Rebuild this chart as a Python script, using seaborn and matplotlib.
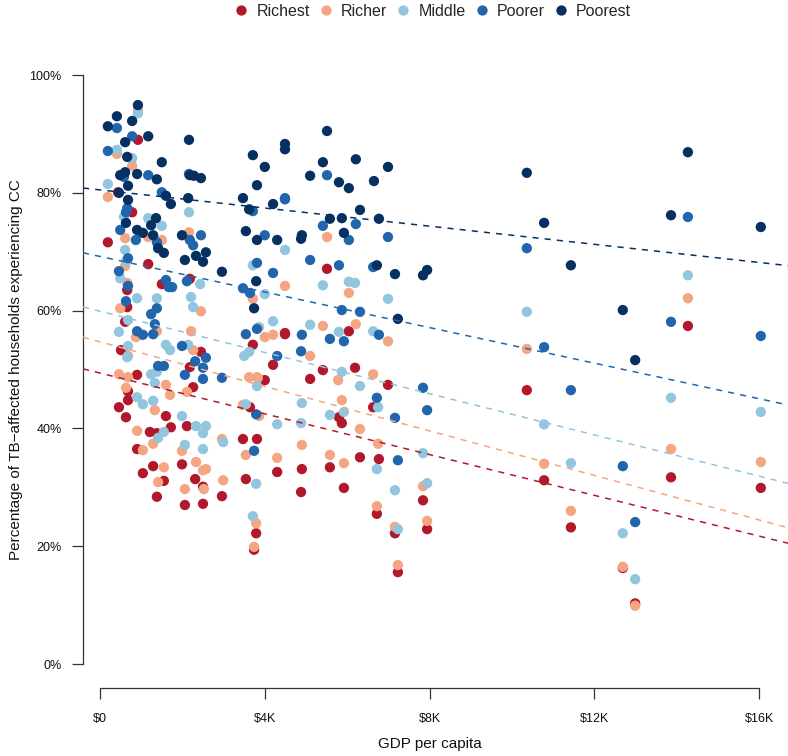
import pandas as pd
import matplotlib.pyplot as plt
import seaborn as sns

# quintile groups and colours (RdBu ends)
groups = ['Richest', 'Richer', 'Middle', 'Poorer', 'Poorest']
colors = ['#b2182b', '#f4a582', '#92c5de', '#2166ac', '#053061']

# GDP per capita in $K and % of households with catastrophic costs
richest_gdp = [0.19, 0.44, 0.92, 0.78, 1.17, 0.66, 0.66, 0.61, 0.51, 0.90, 0.68, 0.68, 0.46, 0.63, 1.50,
               2.18, 2.45, 2.18, 2.26, 1.60, 1.72, 2.11, 1.21, 1.38, 0.90, 1.29, 1.04, 1.55, 1.38, 1.99,
               2.31, 2.50, 2.96, 2.06, 2.50, 3.47, 3.81, 3.54, 3.64, 3.71, 3.79, 3.74, 4.00, 4.20, 4.30,
               4.49, 4.49, 4.88, 4.90, 5.10, 5.41, 5.51, 5.58, 5.80, 5.87, 5.92, 6.04, 6.19, 6.31, 6.63,
               6.77, 6.72, 6.99, 7.16, 7.23, 7.84, 7.94, 10.36, 10.78, 11.43, 12.69, 12.99, 13.86, 14.27, 16.04]
richest_pct = [71.6, 80.1, 89.0, 76.7, 67.9, 63.5, 60.6, 58.1, 53.3, 49.1, 46.3, 44.8, 43.6, 41.9, 64.5,
               65.4, 53.0, 50.4, 47.0, 42.1, 40.2, 40.4, 39.4, 39.2, 36.5, 33.6, 32.4, 31.1, 28.4, 33.9,
               31.4, 30.1, 28.5, 27.0, 27.2, 38.2, 38.2, 31.4, 43.6, 54.2, 22.2, 19.4, 48.2, 50.8, 32.6,
               56.2, 56.0, 29.2, 33.1, 48.4, 49.9, 67.1, 33.4, 41.9, 40.9, 29.9, 56.5, 50.3, 35.1, 43.6,
               34.8, 25.5, 47.4, 22.2, 15.6, 27.8, 22.9, 46.5, 31.2, 23.2, 16.3, 10.3, 31.7, 57.4, 29.9]

richer_gdp = [0.19, 0.41, 0.92, 0.78, 0.61, 1.17, 1.50, 2.16, 0.61, 0.66, 0.49, 2.45, 3.71, 0.87, 1.38,
              2.21, 2.26, 0.68, 0.46, 0.68, 1.60, 0.63, 1.70, 2.11, 1.33, 3.47, 3.62, 3.81, 0.90, 1.29,
              1.04, 1.99, 2.96, 3.54, 1.55, 2.33, 2.50, 2.57, 1.41, 2.06, 2.52, 2.99, 4.00, 4.20, 3.83,
              3.86, 3.79, 3.74, 4.30, 4.49, 4.90, 5.10, 5.41, 5.51, 5.58, 5.78, 5.87, 5.92, 6.04, 6.21,
              6.31, 6.63, 6.75, 6.72, 6.99, 7.16, 7.23, 7.84, 7.94, 10.36, 10.78, 11.43, 12.69, 12.99, 13.86,
              14.27, 16.04]
richer_pct = [79.3, 86.6, 94.1, 84.6, 72.3, 72.5, 72.0, 73.3, 67.6, 64.7, 60.4, 59.9, 62.0, 55.5, 56.5,
              56.5, 53.3, 52.3, 49.2, 48.7, 47.4, 46.9, 45.7, 46.2, 43.1, 44.0, 48.7, 48.7, 39.6, 37.4,
              36.3, 36.2, 38.2, 35.5, 33.4, 34.3, 32.9, 33.1, 30.9, 29.7, 29.7, 31.2, 55.5, 55.9, 48.6,
              42.1, 23.9, 19.9, 35.0, 64.2, 37.2, 52.3, 57.4, 72.5, 35.5, 48.2, 44.8, 34.1, 63.0, 57.7,
              39.9, 49.2, 37.4, 26.8, 54.8, 23.3, 16.8, 30.2, 24.3, 53.5, 34.0, 26.0, 16.5, 9.9, 36.5,
              62.1, 34.3]

middle_gdp = [0.19, 0.41, 0.92, 0.78, 0.58, 1.17, 1.50, 0.61, 0.63, 2.16, 0.49, 0.90, 1.38, 2.21, 2.43,
              2.26, 0.68, 0.46, 0.68, 0.66, 1.60, 1.70, 2.14, 1.24, 1.38, 1.33, 0.90, 1.04, 1.29, 1.99,
              2.33, 2.57, 2.50, 1.55, 1.41, 2.06, 2.50, 2.99, 3.50, 3.62, 3.71, 3.79, 3.71, 3.54, 4.00,
              4.49, 4.20, 5.10, 3.86, 3.81, 4.30, 4.88, 4.90, 5.41, 5.58, 5.80, 5.87, 5.92, 6.04, 6.19,
              6.31, 6.63, 6.75, 6.72, 6.99, 7.16, 7.23, 7.84, 7.94, 10.36, 10.78, 11.43, 12.69, 12.99, 13.86,
              14.27, 16.04]
middle_pct = [81.5, 87.3, 93.5, 85.9, 75.9, 75.7, 74.4, 70.3, 68.4, 76.7, 65.5, 62.1, 62.1, 62.3, 64.5,
              60.6, 58.4, 56.4, 54.0, 52.1, 54.2, 53.3, 54.2, 49.2, 49.6, 47.7, 45.3, 44.1, 44.7, 42.1,
              40.4, 40.4, 39.2, 39.4, 38.4, 37.2, 36.5, 37.7, 52.3, 53.0, 67.7, 30.6, 25.1, 44.1, 62.8,
              70.3, 58.2, 57.6, 57.2, 47.2, 40.7, 40.9, 44.3, 64.3, 42.3, 56.4, 49.6, 42.8, 64.9, 64.7,
              47.2, 56.5, 43.6, 33.1, 62.0, 29.5, 22.9, 35.8, 30.7, 59.8, 40.7, 34.1, 22.2, 14.4, 45.2,
              66.0, 42.8]

poorer_gdp = [0.19, 0.41, 0.78, 0.58, 1.17, 0.66, 0.63, 1.50, 0.49, 0.87, 1.38, 0.68, 0.46, 2.16, 2.45,
              2.18, 2.26, 1.60, 1.67, 0.68, 0.63, 2.11, 1.75, 1.38, 1.24, 1.33, 0.90, 1.04, 1.29, 1.99,
              1.41, 1.55, 2.31, 2.57, 2.50, 2.06, 2.50, 2.96, 3.47, 3.64, 3.54, 3.81, 3.71, 3.81, 3.74,
              4.00, 4.20, 3.79, 4.30, 4.49, 4.49, 4.90, 4.88, 5.10, 5.41, 5.51, 5.58, 5.80, 5.87, 5.92,
              6.04, 6.21, 6.31, 6.63, 6.77, 6.72, 6.99, 7.16, 7.23, 7.84, 7.94, 10.36, 10.78, 11.43, 12.69,
              12.99, 13.86, 14.27, 16.04]
poorer_pct = [87.1, 91.0, 89.6, 82.7, 83.0, 77.4, 76.7, 80.1, 73.7, 72.0, 71.6, 68.9, 66.7, 83.2, 72.8,
              72.0, 71.1, 65.2, 64.0, 64.2, 61.6, 65.0, 64.0, 60.4, 59.4, 57.7, 56.5, 55.9, 56.0, 54.0,
              50.6, 50.6, 51.4, 52.0, 50.3, 49.1, 48.4, 48.6, 63.8, 63.0, 56.0, 56.9, 76.9, 68.1, 36.2,
              72.8, 66.4, 42.4, 52.3, 79.1, 78.9, 55.9, 53.1, 68.6, 74.4, 83.0, 55.2, 67.7, 60.1, 54.8,
              72.0, 74.7, 59.8, 67.4, 55.9, 45.2, 72.5, 41.8, 34.6, 46.9, 43.1, 70.6, 53.8, 46.5, 33.6,
              24.1, 58.1, 75.9, 55.7]

poorest_gdp = [0.19, 0.41, 0.49, 0.46, 0.61, 0.66, 0.61, 0.68, 0.68, 0.63, 0.78, 0.92, 0.90, 0.90, 1.04,
               1.17, 1.24, 1.29, 1.36, 1.38, 1.41, 1.50, 1.55, 1.60, 1.72, 2.16, 2.18, 2.28, 2.45, 2.14,
               1.99, 2.33, 2.57, 2.06, 2.50, 2.96, 3.47, 3.54, 3.62, 3.71, 3.81, 3.81, 3.79, 3.74, 4.00,
               4.20, 4.30, 4.49, 4.49, 4.90, 4.88, 5.10, 5.41, 5.51, 5.58, 5.80, 5.87, 5.92, 6.04, 6.21,
               6.31, 6.65, 6.77, 6.72, 6.99, 7.16, 7.23, 7.84, 7.94, 10.36, 10.78, 11.43, 12.69, 12.99, 13.86,
               14.27, 16.04]
poorest_pct = [91.3, 93.0, 83.0, 80.0, 88.6, 86.1, 83.5, 81.2, 78.8, 74.9, 92.2, 94.9, 83.2, 73.7, 73.2,
               89.6, 74.5, 72.8, 75.7, 82.3, 70.6, 85.2, 69.8, 79.5, 78.1, 89.0, 83.0, 82.9, 82.5, 79.1,
               72.8, 69.3, 69.9, 68.6, 68.3, 66.6, 79.1, 73.5, 77.2, 86.4, 81.3, 72.0, 65.0, 60.4, 84.4,
               78.1, 72.0, 88.3, 87.4, 72.8, 72.2, 82.9, 85.2, 90.5, 75.6, 81.8, 75.7, 73.2, 80.8, 85.7,
               77.1, 82.0, 75.6, 67.7, 84.4, 66.2, 58.6, 66.0, 66.9, 83.4, 74.9, 67.7, 60.1, 51.6, 76.2,
               86.9, 74.2]

# linear fits as drawn in the chart (intercept in %, slope in % per $1K)
fit_intercept = [49.4, 54.7, 59.9, 69.2, 80.5]
fit_slope = [-1.73, -1.89, -1.75, -1.51, -0.77]

xticks = [0, 4, 8, 12, 16]
xtick_labels = ['\\$0', '\\$4K', '\\$8K', '\\$12K', '\\$16K']
yticks = [0, 20, 40, 60, 80, 100]
ytick_labels = ['0%', '20%', '40%', '60%', '80%', '100%']

gdp_lists = [richest_gdp, richer_gdp, middle_gdp, poorer_gdp, poorest_gdp]
pct_lists = [richest_pct, richer_pct, middle_pct, poorer_pct, poorest_pct]

# richest first so poorest is drawn on top
df = pd.concat([pd.DataFrame({'gdp': g, 'pct': p, 'group': name})
                for name, g, p in zip(groups, gdp_lists, pct_lists)], ignore_index=True)

sns.set_style('white')
plt.rcParams['font.family'] = ['Liberation Sans', 'DejaVu Sans']

fig = plt.figure(figsize=(7.88, 7.56), dpi=100)
ax = fig.add_axes([83 / 788, 68 / 756, 705 / 788, 643 / 756])

sns.scatterplot(data=df, x='gdp', y='pct', hue='group', hue_order=groups, palette=colors,
                s=55, linewidth=0, ax=ax, zorder=2)

for b, m, c in zip(fit_intercept, fit_slope, colors):
    ax.axline((0, b), slope=m, color=c, lw=1.1, ls=(0, (4, 4)), zorder=3)

ax.set_xlim(-0.413, 16.70)
ax.set_ylim(-4.07, 105.1)

ax.set_xticks(xticks)
ax.set_xticklabels(xtick_labels)
ax.set_yticks(yticks)
ax.set_yticklabels(ytick_labels)

ax.spines[['top', 'right']].set_visible(False)
for side in ['left', 'bottom']:
    ax.spines[side].set_color('#333333')
    ax.spines[side].set_linewidth(0.9)
ax.spines['left'].set_bounds(0, 100)
ax.spines['bottom'].set_bounds(0, 16)

ax.tick_params(axis='both', direction='out', length=8, width=0.9, color='#333333',
               labelsize=9, labelcolor='#111111', left=True, bottom=True)
ax.tick_params(axis='x', pad=10)
ax.tick_params(axis='y', pad=7.5)

ax.set_xlabel('GDP per capita', fontsize=11, color='#111111')
ax.set_ylabel('Percentage of TB\u2212affected households experiencing CC', fontsize=11, color='#111111')
ax.xaxis.set_label_coords(0.4916, -0.0762)
ax.yaxis.set_label_coords(-0.085, 0.495)

sns.move_legend(ax, 'upper center', bbox_to_anchor=(0.4965, 1.070), ncol=5, frameon=False,
                title=None, fontsize=11.5, handlelength=0.8, handletextpad=0.55,
                columnspacing=0.6, borderaxespad=0, borderpad=0.25)

fig.savefig('out.png', dpi=100)
